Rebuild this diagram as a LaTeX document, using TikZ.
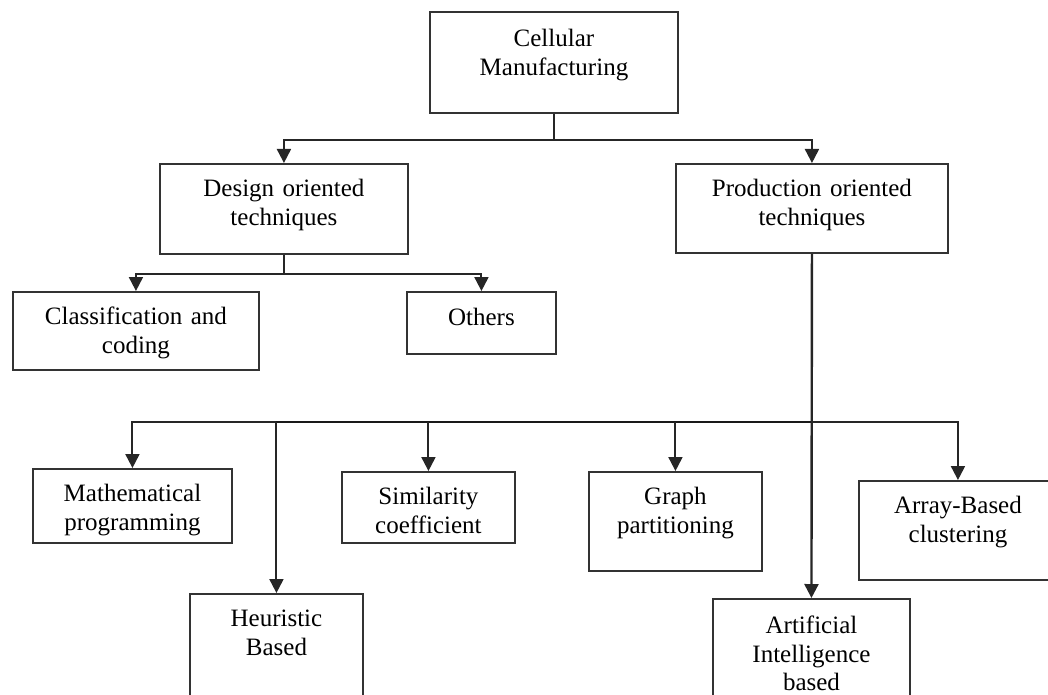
\documentclass[tikz,border=0pt]{standalone}
\usepackage{fontspec}
\setmainfont{Liberation Serif}
\usetikzlibrary{arrows.meta}
\begin{document}
\begin{tikzpicture}[x=1pt,y=-1pt,
  box/.style={draw=black!80, line width=1.9pt, inner sep=0pt, anchor=north west,
    align=center, text height=33pt, font=\fontsize{25}{28.5}\selectfont},
  conn/.style={draw=black!85, line width=2pt},
  bus/.style={draw=black!90, line width=2.8pt},
  arr/.style={conn, -{Triangle[width=14pt,length=14pt]}}]
\useasboundingbox (0,0) rectangle (1048,695);
\clip (0,0) rectangle (1048,695);
% boxes
\node[box, text width=248pt, text height=35pt, text depth=66pt] (cm) at (429,11) {Cellular\\Manufacturing};
\node[box, text width=248pt, text depth=57pt] (design) at (159,163) {Design oriented\\techniques};
\node[box, text width=272pt, text depth=56pt] (prod) at (675,163) {Production oriented\\techniques};
\node[box, text width=246pt, text depth=45pt] (class) at (12,291) {Classification and\\coding};
\node[box, text width=149pt, text height=34pt, text depth=28pt] (others) at (406,291) {Others};
\node[box, text width=199pt, text depth=41pt] (math) at (32,468) {Mathematical\\programming};
\node[box, text width=173pt, text depth=117pt] (heur) at (189,593) {Heuristic\\Based};
\node[box, text width=173pt, text depth=38pt] (sim) at (341,471) {Similarity\\coefficient};
\node[box, text width=173pt, text depth=66pt] (graph) at (588,471) {Graph\\partitioning};
\node[box, text width=198pt, text depth=66pt] (array) at (858,480) {Array-Based\\clustering};
\node[box, text width=197pt, text height=35pt, text depth=115pt] (ai) at (712,598) {Artificial\\Intelligence\\based};
% top level
\draw[conn] (cm.south) -- ++(0,26) coordinate (j1);
\draw[arr] (j1) -| (design.north);
\draw[arr] (j1) -| (prod.north);
% design oriented
\draw[conn] (design.south) -- ++(0,19) coordinate (j2);
\draw[arr] (j2) -| (class.north);
\draw[arr] (j2) -| (others.north);
% production oriented
\coordinate (bus) at (811,422);
\draw[arr, line width=2.4pt] (prod.south) -- (ai.north);
\draw[bus] (bus) -- (heur.north |- bus);
\draw[arr] (heur.north |- bus) -| (math.north);
\draw[arr] (heur.north |- bus) -- (heur.north);
\draw[arr] (sim.north |- bus) -- (sim.north);
\draw[arr] (graph.north |- bus) -- (graph.north);
\draw[arr] (bus) -| (array.north);
\end{tikzpicture}
\end{document}
